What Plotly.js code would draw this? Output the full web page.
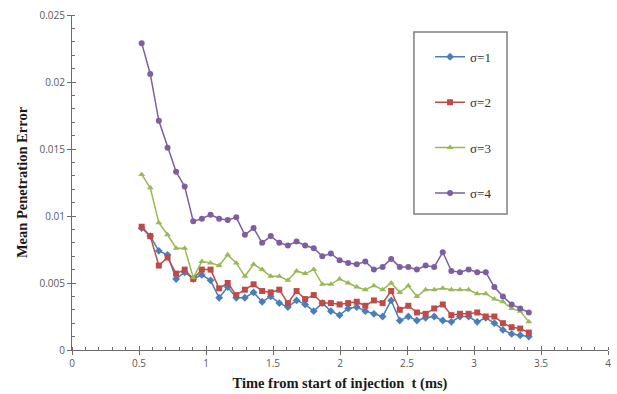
<!DOCTYPE html>
<html>
<head>
<meta charset="utf-8">
<script src="https://cdn.plot.ly/plotly-3.0.1.min.js"></script>
<style>html,body{margin:0;padding:0;background:#fff;}#chart{width:617px;height:394px;}</style>
</head>
<body>
<div id="chart"></div>
<script>
const timeMs = [0.520,0.584,0.648,0.713,0.777,0.841,0.905,0.969,1.034,1.098,1.162,1.226,1.290,1.355,1.419,1.483,1.547,1.611,1.676,1.740,1.804,1.868,1.932,1.997,2.061,2.125,2.189,2.253,2.318,2.382,2.446,2.510,2.574,2.639,2.703,2.767,2.831,2.895,2.960,3.024,3.088,3.152,3.216,3.281,3.345,3.409];
const sigma1 = [0.0091,0.0085,0.0074,0.0071,0.0053,0.0058,0.0053,0.0056,0.0052,0.0039,0.0047,0.0039,0.0039,0.0043,0.0036,0.0040,0.0035,0.0032,0.0037,0.0034,0.0029,0.0035,0.0029,0.0026,0.0031,0.0032,0.0029,0.0027,0.0025,0.0037,0.0022,0.0025,0.0022,0.0024,0.0025,0.0022,0.0021,0.0025,0.0025,0.0021,0.0024,0.0020,0.0015,0.0012,0.0011,0.0010];
const sigma2 = [0.0092,0.0085,0.0063,0.0069,0.0057,0.0060,0.0053,0.0060,0.0060,0.0046,0.0050,0.0041,0.0045,0.0049,0.0044,0.0043,0.0045,0.0035,0.0044,0.0038,0.0041,0.0035,0.0035,0.0034,0.0035,0.0036,0.0033,0.0037,0.0035,0.0044,0.0030,0.0033,0.0028,0.0027,0.0031,0.0034,0.0026,0.0027,0.0027,0.0028,0.0025,0.0025,0.0020,0.0017,0.0016,0.0013];
const sigma3 = [0.0131,0.0121,0.0095,0.0086,0.0076,0.0076,0.0054,0.0066,0.0065,0.0063,0.0071,0.0065,0.0055,0.0064,0.0060,0.0055,0.0055,0.0052,0.0059,0.0057,0.0060,0.0049,0.0049,0.0053,0.0050,0.0047,0.0045,0.0048,0.0045,0.0050,0.0043,0.0048,0.0040,0.0045,0.0045,0.0046,0.0045,0.0045,0.0045,0.0042,0.0042,0.0038,0.0036,0.0031,0.0029,0.0021];
const sigma4 = [0.0229,0.0206,0.0171,0.0151,0.0133,0.0122,0.0096,0.0098,0.0101,0.0098,0.0097,0.0099,0.0086,0.0091,0.0080,0.0085,0.0080,0.0078,0.0081,0.0078,0.0076,0.0070,0.0072,0.0067,0.0065,0.0064,0.0066,0.0060,0.0062,0.0068,0.0062,0.0062,0.0060,0.0063,0.0062,0.0073,0.0059,0.0058,0.0060,0.0058,0.0058,0.0047,0.0040,0.0034,0.0031,0.0028];
const seriesNames = ['σ=1','σ=2','σ=3','σ=4'];
const xTitle = 'Time from start of injection  t (ms)';
const yTitle = 'Mean Penetration Error';

const colors = ['#4A7EBB','#BE4B48','#98B954','#7D5FA0'];
const symbols = ['diamond','square','triangle-up','circle'];
const sizes = [6,6,6,6];
const allY = [sigma1, sigma2, sigma3, sigma4];

const traces = allY.map((ys, k) => ({
  x: timeMs, y: ys, name: seriesNames[k], type: 'scatter', mode: 'lines+markers',
  legendgroup: 'g' + k,
  line: {color: colors[k], width: 1.5},
  marker: {symbol: symbols[k], size: sizes[k], color: colors[k]}
}));
traces.push({x: [], y: [], xaxis: 'x2', yaxis: 'y2', showlegend: false, hoverinfo: 'skip'});

const axisColor = '#6b6b6b';
const tickFont = {family: 'Open Sans, Liberation Sans, sans-serif', size: 10, color: '#595959'};
const titleFont = {family: 'Liberation Serif, Times New Roman, serif', size: 14.5, color: '#1a1a1a', weight: 'bold'};

const layout = {
  width: 617, height: 394,
  margin: {l: 72, r: 9, t: 15, b: 44},
  paper_bgcolor: '#fff', plot_bgcolor: '#fff',
  showlegend: true,
  legend: {
    x: 0.668, y: 0.92, xanchor: 'left', yanchor: 'top',
    bgcolor: 'rgba(0,0,0,0)', borderwidth: 0,
    traceorder: 'grouped', tracegroupgap: 25.5,
    font: {family: 'Liberation Serif, Times New Roman, serif', size: 13, color: '#333'}
  },
  shapes: [{
    type: 'rect', xref: 'paper', yref: 'paper',
    x0: 0.638, x1: 0.8116, y0: 0.406, y1: 0.949,
    line: {color: '#7f7f7f', width: 1.5}, fillcolor: 'rgba(0,0,0,0)'
  }],
  xaxis: {
    range: [0, 4], dtick: 0.5, tick0: 0, showgrid: false, zeroline: false,
    showline: true, linecolor: axisColor, linewidth: 1,
    ticks: 'outside', ticklen: 4, tickcolor: axisColor, tickwidth: 1,
    minor: {dtick: 0.1, ticks: 'inside', ticklen: 3, tickcolor: axisColor, showgrid: false},
    tickfont: tickFont,
    title: {text: xTitle, font: titleFont, standoff: 8}
  },
  yaxis: {
    range: [0, 0.025], dtick: 0.005, tick0: 0, showgrid: false, zeroline: false,
    showline: true, linecolor: axisColor, linewidth: 1,
    ticks: 'outside', ticklen: 4, tickcolor: axisColor, tickwidth: 1,
    minor: {dtick: 0.001, ticks: 'inside', ticklen: 3, tickcolor: axisColor, showgrid: false},
    tickfont: tickFont,
    title: {text: yTitle, font: titleFont, standoff: 8}
  },
  xaxis2: {overlaying: 'x', matches: 'x', range: [0, 4], dtick: 0.5, showticklabels: false,
    ticks: 'inside', ticklen: 4, tickcolor: axisColor, showgrid: false, zeroline: false, showline: false},
  yaxis2: {overlaying: 'y', matches: 'y', range: [0, 0.025], dtick: 0.005, showticklabels: false,
    ticks: 'inside', ticklen: 4, tickcolor: axisColor, showgrid: false, zeroline: false, showline: false}
};

Plotly.newPlot('chart', traces, layout, {displayModeBar: false, staticPlot: true});
</script>
</body>
</html>
